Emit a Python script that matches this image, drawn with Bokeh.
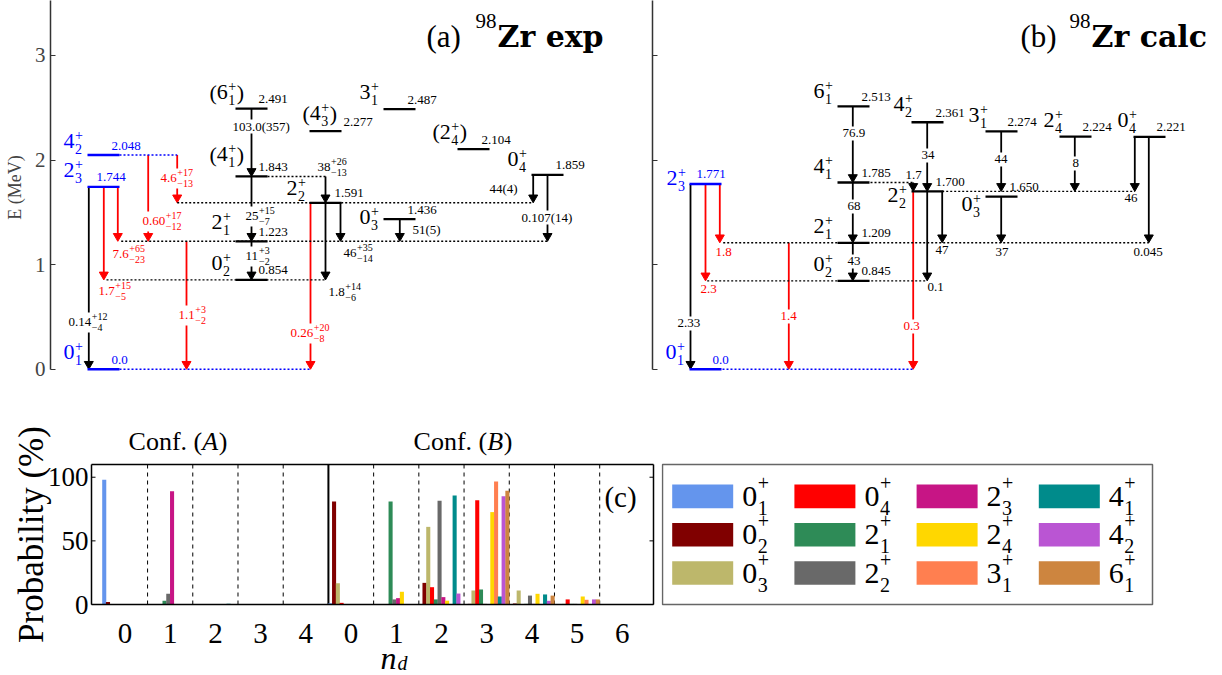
import math
from bokeh.plotting import figure
from bokeh.models import Range1d, ColumnDataSource, FixedTicker
from bokeh.layouts import column, row
from bokeh.embed import file_html
from bokeh.resources import INLINE
from bokeh.core.properties import value

# ------------------------------------------------------------------ data
# (a) experiment: levels
exp_J = ["0", "2", "4", "6", "4", "2", "0", "2", "4", "3", "0", "2", "0"]
exp_n = ["1", "3", "2", "1", "1", "1", "2", "2", "3", "1", "3", "4", "4"]
exp_E = [0.0, 1.744, 2.048, 2.491, 1.843, 1.223, 0.854, 1.591, 2.277, 2.487, 1.436, 2.104, 1.859]
exp_tentative = [0, 0, 0, 1, 1, 0, 0, 0, 1, 0, 0, 1, 0]
exp_blue = [1, 1, 1, 0, 0, 0, 0, 0, 0, 0, 0, 0, 0]
# (a) transitions (from level, to level, B(E2) value with errors)
exp_tr_from = [1, 1, 1, 2, 2, 5, 7, 3, 4, 5, 4, 7, 7, 10, 12, 12]
exp_tr_to = [0, 6, 5, 5, 7, 0, 0, 4, 5, 6, 7, 6, 5, 5, 7, 5]
exp_tr_val = ["0.14", "1.7", "7.6", "0.60", "4.6", "1.1", "0.26", "103.0(357)", "25", "11",
              "38", "1.8", "46", "51(5)", "44(4)", "0.107(14)"]
exp_tr_up = ["+12", "+15", "+65", "+17", "+17", "+3", "+20", "", "+15", "+3", "+26", "+14", "+35", "", "", ""]
exp_tr_dn = ["\u22124", "\u22125", "\u221223", "\u221212", "\u221213", "\u22122", "\u22128", "", "\u22127",
             "\u22122", "\u221213", "\u22126", "\u221214", "", "", ""]
exp_tr_red = [0, 1, 1, 1, 1, 1, 1, 0, 0, 0, 0, 0, 0, 0, 0, 0]

# (b) calculation: levels
calc_J = ["0", "2", "6", "4", "2", "0", "4", "2", "3", "0", "2", "0"]
calc_n = ["1", "3", "1", "1", "1", "2", "2", "2", "1", "3", "4", "4"]
calc_E = [0.0, 1.771, 2.513, 1.785, 1.209, 0.845, 2.361, 1.700, 2.274, 1.650, 2.224, 2.221]
calc_tentative = [0] * 12
calc_blue = [1, 1, 0, 0, 0, 0, 0, 0, 0, 0, 0, 0]
calc_tr_from = [1, 1, 1, 4, 7, 2, 3, 4, 3, 6, 7, 7, 8, 9, 10, 11, 11]
calc_tr_to = [0, 5, 4, 0, 0, 3, 4, 5, 7, 7, 5, 4, 7, 4, 7, 7, 4]
calc_tr_val = ["2.33", "2.3", "1.8", "1.4", "0.3", "76.9", "68", "43", "1.7", "34", "0.1", "47",
               "44", "37", "8", "46", "0.045"]
calc_tr_red = [0, 1, 1, 1, 1, 0, 0, 0, 0, 0, 0, 0, 0, 0, 0, 0, 0]

# (c) probabilities (%) for each state, nd bins of conf. A (0..4) and conf. B (0..6)
nd_A = [0, 1, 2, 3, 4]
nd_B = [0, 1, 2, 3, 4, 5, 6]
prob_ticks = [0, 50, 100]
state_J = ["0", "0", "0", "0", "2", "2", "2", "2", "3", "4", "4", "6"]
state_n = ["1", "2", "3", "4", "1", "2", "3", "4", "1", "1", "2", "1"]
state_colors = ["#6495ED", "#800000", "#BDB76B", "#FF0000", "#2E8B57", "#696969",
                "#C71585", "#FFD700", "#FF7F50", "#008B8B", "#BA55D3", "#CD853F"]
prob_A = [
    [98, 0, 0, 0, 0],
    [2, 0, 0, 0, 0],
    [0, 0, 0.3, 0, 0],
    [0, 0, 0, 0, 0],
    [0, 3, 0, 0, 0],
    [0, 8.4, 0.3, 0, 0],
    [0, 89, 0.3, 0, 0],
    [0, 0, 0, 0, 0],
    [0, 0, 0, 0, 0],
    [0, 0, 0.5, 0, 0],
    [0, 0, 0, 0, 0],
    [0, 0, 0, 0, 0],
]
prob_B = [
    [1, 0, 0, 0, 0, 0, 0],
    [81, 0, 17, 0.5, 0.8, 0, 0],
    [16.7, 0, 61, 11, 11, 0.5, 0.2],
    [1.3, 0, 13.6, 82, 0.3, 4, 0.2],
    [0, 81, 4, 11.8, 0.5, 0.5, 0],
    [0, 4, 81.5, 0.5, 7, 0.5, 0],
    [0, 5, 5.8, 0, 0.5, 0, 0],
    [0, 10, 3, 72.6, 8.4, 6.3, 0.3],
    [0, 0, 0, 96.7, 0, 3.7, 0.3],
    [0, 0, 85.7, 6.3, 7.9, 0, 0],
    [0, 0, 8.6, 85, 2.9, 4, 0.3],
    [0, 0, 0, 89.4, 7, 4, 0.3],
]

# ------------------------------------------------------------------ layout (positions, px)
exp_lx0 = [87, 87, 87, 235, 235, 235, 235, 309, 309, 383, 383, 457, 531]
exp_sl_x = [63, 63, 63, 209, 209, 211, 211, 286, 302, 359, 359, 432, 507]
exp_sl_y = [352, 170, 140.5, 92, 154, 222, 263, 188, 113, 91.5, 216.5, 131.5, 158.5]
exp_el_x = [111, 96, 111, 258, 258, 258, 258, 334, 343, 407, 407, 481, 555]
exp_tr_x = [88.3, 103.3, 117.3, 147.7, 176.7, 186, 310, 251, 251, 251, 325, 325, 340, 399.3, 532.7, 547]
exp_tr_lx = [68, 98, 112, 142, 160, 178, 290, 232, 245, 245, 317, 328, 343, 412, 489, 521]
exp_tr_ly = [322, 291, 254, 221, 178, 315, 333, 126, 216, 256, 167, 292, 253, 229, 188, 217]
exp_tr_bg = [1, 0, 0, 1, 1, 1, 1, 1, 1, 1, 0, 0, 0, 0, 0, 1]
exp_dot_x0 = [119, 119, 120.7, 106, 176.7, 267]
exp_dot_x1 = [310, 176.7, 548, 325, 532.7, 325]
exp_dot_lvl = [0, 2, 5, 6, 7, 4]

calc_lx0 = [689, 689, 837, 837, 837, 837, 911, 911, 985, 985, 1059, 1133]
calc_sl_x = [665, 666, 813, 813, 813, 813, 893, 887, 968, 961, 1043, 1117]
calc_sl_y = [351.5, 178, 91, 166, 226, 264, 103.5, 195, 115, 204, 120, 120]
calc_el_x = [712, 696, 861, 861, 861, 861, 935, 935, 1007, 1009, 1082, 1156]
calc_tr_x = [690, 705, 719.3, 788.3, 912.7, 852.3, 852.3, 852.3, 912.7, 926.7, 926.7, 941.7,
             1000.7, 1000.7, 1074.3, 1134.3, 1148.3]
calc_tr_lx = [677, 700, 715, 780, 903, 842, 847, 847, 905, 921, 927, 935, 994, 995, 1072, 1124, 1133]
calc_tr_ly = [323, 289, 252, 316, 326, 133, 206, 261, 175, 155, 287, 250, 159, 252, 163, 198, 252]
calc_tr_bg = [1, 0, 0, 1, 1, 1, 1, 1, 0, 1, 0, 0, 1, 0, 1, 0, 0]
calc_dot_x0 = [722, 722.7, 706.7, 870, 941.7]
calc_dot_x1 = [912.7, 1148.3, 926.7, 912.7, 1134.3]
calc_dot_lvl = [0, 4, 5, 3, 7]

SERIF = "Liberation Serif"
BOLDF = "DejaVu Serif"
BLUE = "#0000FF"
RED = "#FF0000"
K = 104.63       # px per MeV
E0PX = 368.8     # canvas y of E=0


def ey(py):
    return (E0PX - py) / K


CW = {str(d): 0.5 for d in range(10)}
CW.update({".": 0.25, "(": 0.333, ")": 0.333, "+": 0.564, "\u2212": 0.564})


def tw(s, size):
    return sum(CW.get(ch, 0.5) for ch in s) * size


def put(batch, x, y, t, color, size, font=SERIF, style="normal", align="left", baseline="middle",
        angle=0.0):
    key = (size, font, style, align, baseline, angle)
    d = batch.setdefault(key, dict(x=[], y=[], t=[], c=[]))
    d["x"].append(x)
    d["y"].append(y)
    d["t"].append(t)
    d["c"].append(color)


def flush(p, batch):
    for (size, font, style, align, baseline, angle), d in batch.items():
        p.text(x="x", y="y", text="t", text_color="c", source=ColumnDataSource(d),
               text_font=value(font), text_font_size=value(f"{size}px"),
               text_font_style=value(style), text_align=value(align),
               text_baseline=value(baseline), angle=angle)


def scheme(p, J, n, E, tent, blue, lx0, sl_x, sl_y, el_x, tr_from, tr_to, tr_x, tr_val,
           tr_up, tr_dn, tr_red, tr_lx, tr_ly, tr_bg, dot_x0, dot_x1, dot_lvl):
    col = [BLUE if b else "black" for b in blue]
    for red in (0, 1):
        ids = [i for i in range(len(tr_x)) if tr_red[i] == red]
        c = RED if red else "black"
        xs = [tr_x[i] for i in ids]
        y0 = [E[tr_from[i]] for i in ids]
        yh = [E[tr_to[i]] + 5.2 / K for i in ids]
        p.segment(x0=xs, y0=y0, x1=xs, y1=yh, line_color=c, line_width=1.8)
        p.scatter(x=xs, y=yh, marker="inverted_triangle", size=9, fill_color=c, line_color=c)
    batch = {}
    bx, by, bw, bh = [], [], [], []
    for i in range(len(tr_x)):
        c = RED if tr_red[i] else "black"
        yc = ey(tr_ly[i])
        put(batch, tr_lx[i], yc, tr_val[i], c, 13)
        w = tw(tr_val[i], 13)
        if tr_up[i]:
            xx = tr_lx[i] + w + 0.5
            put(batch, xx, yc + 5.5 / K, tr_up[i], c, 10)
            put(batch, xx, yc - 5.0 / K, tr_dn[i], c, 10)
            w = w + 0.5 + max(tw(tr_up[i], 10), tw(tr_dn[i], 10))
            h = 20
        else:
            h = 14
        if tr_bg[i]:
            bx.append(tr_lx[i] + w / 2)
            by.append(yc)
            bw.append(w + 4)
            bh.append(h / K)
    if bx:
        p.rect(x=bx, y=by, width=bw, height=bh, fill_color="white", line_color=None)
    dy = [E[i] for i in dot_lvl]
    p.segment(x0=dot_x0, x1=dot_x1, y0=dy, y1=dy, line_color=[col[i] for i in dot_lvl],
              line_dash="2 2", line_width=1.4)
    p.segment(x0=lx0, x1=[x + 32 for x in lx0], y0=E, y1=E, line_color=col, line_width=2.3)
    for i in range(len(E)):
        c = col[i]
        put(batch, el_x[i], E[i] + 9.5 / K, "0.0" if E[i] == 0 else f"{E[i]:.3f}", c, 13)
        x = sl_x[i]
        yc = ey(sl_y[i])
        if tent[i]:
            put(batch, x, yc, "(", c, 22)
            x += tw("(", 22)
        put(batch, x, yc, J[i], c, 22)
        x += tw(J[i], 22) + 0.5
        put(batch, x, yc + 6 / K, "+", c, 14)
        put(batch, x, yc - 8 / K, n[i], c, 14)
        x += max(tw("+", 14), tw(n[i], 14)) + 0.5
        if tent[i]:
            put(batch, x, yc, ")", c, 22)
    flush(p, batch)


def title(p, x_par, x_sup, x_name, par, name):
    b = {}
    put(b, x_par, ey(36), par, "black", 31, baseline="alphabetic")
    put(b, x_sup, ey(21), "98", "black", 21, baseline="alphabetic")
    put(b, x_name, ey(36), name, "black", 30, font=BOLDF, style="bold", baseline="alphabetic")
    flush(p, b)


YR = (-0.05, E0PX / K)
FH = int(round((YR[1] - YR[0]) * K))

# ------------------------------------------------------------------ (a)
fa = figure(frame_width=596, frame_height=FH, x_range=Range1d(50, 646), y_range=Range1d(*YR),
            min_border_left=50, min_border_right=0, min_border_top=0, min_border_bottom=420 - FH,
            toolbar_location=None, output_backend="svg", outline_line_color=None)
fa.xaxis.visible = False
fa.grid.visible = False
ya = fa.yaxis[0]
ya.ticker = FixedTicker(ticks=[0, 1, 2, 3])
ya.bounds = (0, YR[1])
ya.major_tick_in = 5
ya.major_tick_out = 0
ya.minor_tick_line_color = None
ya.axis_line_color = "#333333"
ya.axis_line_width = 1.5
ya.major_tick_line_color = "#333333"
ya.major_label_text_font = SERIF
ya.major_label_text_font_size = "21px"
ya.major_label_standoff = 5
ya.axis_label = "E (MeV)"
ya.axis_label_text_font = SERIF
ya.axis_label_text_font_style = "normal"
ya.axis_label_text_font_size = "18px"
ya.axis_label_standoff = 7

scheme(fa, exp_J, exp_n, exp_E, exp_tentative, exp_blue, exp_lx0, exp_sl_x, exp_sl_y, exp_el_x,
       exp_tr_from, exp_tr_to, exp_tr_x, exp_tr_val, exp_tr_up, exp_tr_dn, exp_tr_red,
       exp_tr_lx, exp_tr_ly, exp_tr_bg, exp_dot_x0, exp_dot_x1, exp_dot_lvl)
title(fa, 426, 475, 497, "(a)", "Zr exp")

# ------------------------------------------------------------------ (b)
fb = figure(frame_width=562, frame_height=FH, x_range=Range1d(652, 1214), y_range=Range1d(*YR),
            min_border_left=6, min_border_right=8, min_border_top=0, min_border_bottom=420 - FH,
            toolbar_location=None, output_backend="svg", outline_line_color=None)
fb.xaxis.visible = False
fb.grid.visible = False
yb = fb.yaxis[0]
yb.ticker = FixedTicker(ticks=[0, 1, 2, 3])
yb.bounds = (0, YR[1])
yb.major_tick_in = 5
yb.major_tick_out = 0
yb.minor_tick_line_color = None
yb.axis_line_color = "#333333"
yb.axis_line_width = 1.5
yb.major_tick_line_color = "#333333"
yb.major_label_overrides = {0: "", 1: "", 2: "", 3: ""}
yb.major_label_text_font_size = "0px"
yb.major_label_standoff = 0

calc_tr_up = [""] * len(calc_tr_val)
calc_tr_dn = [""] * len(calc_tr_val)
scheme(fb, calc_J, calc_n, calc_E, calc_tentative, calc_blue, calc_lx0, calc_sl_x, calc_sl_y,
       calc_el_x, calc_tr_from, calc_tr_to, calc_tr_x, calc_tr_val, calc_tr_up, calc_tr_dn,
       calc_tr_red, calc_tr_lx, calc_tr_ly, calc_tr_bg, calc_dot_x0, calc_dot_x1, calc_dot_lvl)
title(fb, 1020, 1069, 1091, "(b)", "Zr calc")

# ------------------------------------------------------------------ (c)
BOX_L, BOX_R, BOX_T = -0.74, 11.69, 110     # data coords of the plotting box
PXU = 562 / (BOX_R - BOX_L)      # px per bin
PYU = 140 / BOX_T                # px per percent
ROW_TOP, ROW_H = 420, 255


def fx(px):
    return BOX_L + (px - 91) / PXU


def fy(py):
    return (604 - py) / PYU


fc = figure(frame_width=661, frame_height=ROW_H, x_range=Range1d(fx(0), fx(661)),
            y_range=Range1d(fy(ROW_TOP + ROW_H), fy(ROW_TOP)),
            min_border_left=0, min_border_right=0, min_border_top=0, min_border_bottom=0,
            toolbar_location=None, output_backend="svg", outline_line_color=None)
fc.axis.visible = False
fc.grid.visible = False
nbins = len(nd_A) + len(nd_B)
nst = len(state_colors)
bin_labels = [str(v) for v in nd_A] + [str(v) for v in nd_B]

edges = [b + 0.5 for b in range(nbins - 1)]
dash_edges = [e for e in edges if e != len(nd_A) - 0.5]
fc.segment(x0=dash_edges, x1=dash_edges, y0=0, y1=BOX_T, line_color="black", line_width=1,
           line_dash="4 4")
fc.segment(x0=[len(nd_A) - 0.5], x1=[len(nd_A) - 0.5], y0=0, y1=BOX_T, line_color="black",
           line_width=2)

for j in range(nst):
    xs = [b - 0.5 + (j + 0.5) / nst for b in range(nbins)]
    tops = prob_A[j] + prob_B[j]
    fc.vbar(x=xs, top=tops, bottom=0, width=1.08 / nst, fill_color=state_colors[j], line_color=None)

# frame box + inward ticks on both sides
fc.segment(x0=[BOX_L, BOX_L, BOX_L, BOX_R], x1=[BOX_R, BOX_R, BOX_L, BOX_R],
           y0=[0, BOX_T, 0, 0], y1=[0, BOX_T, BOX_T, BOX_T], line_color="black", line_width=1.5)
tk = 4 / PXU
fc.segment(x0=[BOX_L] * len(prob_ticks) + [BOX_R] * len(prob_ticks),
           x1=[BOX_L + tk] * len(prob_ticks) + [BOX_R - tk] * len(prob_ticks),
           y0=prob_ticks * 2, y1=prob_ticks * 2, line_color="black", line_width=1)

cb = {}
for t in prob_ticks:
    put(cb, BOX_L - 3 / PXU, t, str(t), "black", 27, align="right")
for b in range(nbins):
    put(cb, b, fy(633), bin_labels[b], "black", 29, align="center")
put(cb, fx(31), fy(534), "Probability (%)", "black", 35, align="center", angle=math.pi / 2)
for xr, letter in ((201.7, "A"), (486.7, "B")):
    put(cb, fx(xr), fy(441), "Conf. (", "black", 26, align="right")
    put(cb, fx(xr), fy(441), letter, "black", 26, style="italic")
    put(cb, fx(xr + 16.5), fy(441), ")", "black", 26)
put(cb, fx(388), fy(657), "n", "black", 32, style="italic", align="center")
put(cb, fx(397), fy(662.5), "d", "black", 20, style="italic")
put(cb, fx(620), fy(496), "(c)", "black", 29, align="center")
flush(fc, cb)

# ------------------------------------------------------------------ legend (own canvas, px coords)
LG_L, LG_R, LG_T, LG_B = 662, 1152, 464, 604
fl = figure(frame_width=561, frame_height=ROW_H, x_range=Range1d(661, 1222),
            y_range=Range1d(-(ROW_TOP + ROW_H), -ROW_TOP),
            min_border_left=0, min_border_right=0, min_border_top=0, min_border_bottom=0,
            toolbar_location=None, output_backend="svg", outline_line_color=None)
fl.axis.visible = False
fl.grid.visible = False
fl.rect(x=[(LG_L + LG_R) / 2], y=[-(LG_T + LG_B) / 2], width=LG_R - LG_L, height=LG_B - LG_T,
        fill_color=None, line_color="#666666", line_width=1.5)
sx, sy, scol = [], [], []
lb = {}
for j in range(nst):
    cidx, ridx = j // 3, j % 3
    x0 = 671.7 + 122.2 * cidx
    yrow = -(495.9 + 38.3 * ridx)
    sx.append(x0 + 30.5)
    sy.append(yrow)
    scol.append(state_colors[j])
    lx = x0 + 70
    put(lb, lx, yrow, state_J[j], "black", 30)
    put(lb, lx + 15.5, yrow + 13.3, "+", "black", 20)
    put(lb, lx + 15.5, yrow - 11.7, state_n[j], "black", 20)
fl.rect(x=sx, y=sy, width=61, height=23.6, fill_color=scol, line_color=None)
flush(fl, lb)

layout = column(row(fa, fb), row(fc, fl))
open("out.html", "w").write(file_html(layout, INLINE))
